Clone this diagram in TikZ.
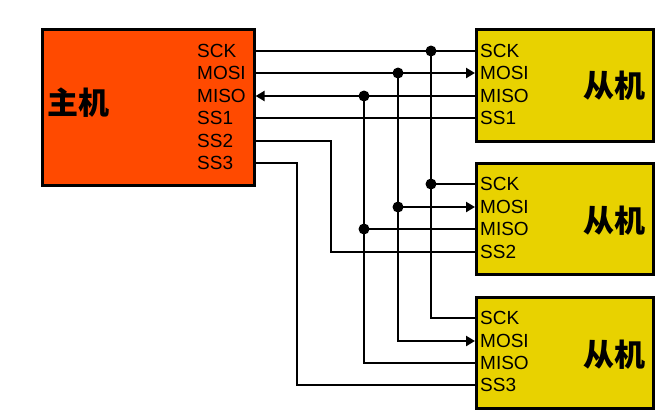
\documentclass[tikz,border=0pt]{standalone}
\usepackage{fontspec}
\setmainfont{Liberation Sans}
\newfontfamily\cjk{Noto Sans CJK SC}
\usetikzlibrary{arrows.meta}
\definecolor{masterred}{RGB}{255,74,0}
\definecolor{slaveyellow}{RGB}{232,210,0}
\tikzset{
  unit/.style={draw,line width=2.6pt,anchor=north west,inner sep=0pt},
  pin/.style={anchor=west,inner sep=0pt,text height=13pt,text depth=0pt,font=\fontsize{19}{19}\selectfont},
  title/.style={font=\cjk\bfseries\fontsize{31}{31}\selectfont},
  wire/.style={line width=2.8pt},
  sig/.style={wire,-{Triangle[length=9pt,width=10pt]}},
  junc/.style={circle,fill,inner sep=0pt,minimum size=11pt},
}

\begin{document}
\begin{tikzpicture}[x=1pt,y=-1pt]
    \useasboundingbox (0,0) rectangle (666,416);
    %Master
    \node[unit,fill=masterred,minimum width=212pt,minimum height=156pt] (master) at (41,28) {};
    \node[title] (mname) at (78,103) {主机};
    \node[pin] (mSCK)  at (197,51)  {SCK};
    \node[pin] (mMOSI) at (197,73)  {MOSI};
    \node[pin] (mMISO) at (197,96)  {MISO};
    \node[pin] (mSS1)  at (197,118) {SS1};
    \node[pin] (mSS2)  at (197,141) {SS2};
    \node[pin] (mSS3)  at (197,163) {SS3};
    %Slave 1
    \node[unit,fill=slaveyellow,minimum width=177pt,minimum height=112pt] (slaveA) at (475,28) {};
    \node[title] (aname) at ([xshift=-40pt]slaveA.east) {从机};
    \node[pin] (aSCK)  at (480,51)  {SCK};
    \node[pin] (aMOSI) at (480,73)  {MOSI};
    \node[pin] (aMISO) at (480,96)  {MISO};
    \node[pin] (aSS)   at (480,118) {SS1};
    %Slave 2
    \node[unit,fill=slaveyellow,minimum width=177pt,minimum height=111pt] (slaveB) at (475,162) {};
    \node[title] (bname) at ([xshift=-40pt,yshift=-2pt]slaveB.east) {从机};
    \node[pin] (bSCK)  at (480,184) {SCK};
    \node[pin] (bMOSI) at (480,207) {MOSI};
    \node[pin] (bMISO) at (480,229) {MISO};
    \node[pin] (bSS)   at (480,252) {SS2};
    %Slave 3
    \node[unit,fill=slaveyellow,minimum width=177pt,minimum height=111pt] (slaveC) at (475,296) {};
    \node[title] (cname) at ([xshift=-40pt,yshift=-2pt]slaveC.east) {从机};
    \node[pin] (cSCK)  at (480,318) {SCK};
    \node[pin] (cMOSI) at (480,341) {MOSI};
    \node[pin] (cMISO) at (480,363) {MISO};
    \node[pin] (cSS)   at (480,385) {SS3};
    %Junctions
    \node[junc] (jSCKa)  at (431,51)  {};
    \node[junc] (jSCKb)  at (431,184) {};
    \node[junc] (jMOSIa) at (398,73)  {};
    \node[junc] (jMOSIb) at (398,207) {};
    \node[junc] (jMISOa) at (364,96)  {};
    \node[junc] (jMISOb) at (364,229) {};
    \coordinate (ssB) at (331,0);
    \coordinate (ssC) at (297,0);
    %SCK
    \draw[wire] (mSCK -| master.east) -- (aSCK -| slaveA.west);
    \draw[wire] (jSCKa.center) |- (cSCK -| slaveC.west);
    \draw[wire] (jSCKb.center) -- (bSCK -| slaveB.west);
    %MOSI
    \draw[sig] (mMOSI -| master.east) -- (aMOSI -| slaveA.west);
    \draw[sig] (jMOSIa.center) |- (cMOSI -| slaveC.west);
    \draw[sig] (jMOSIb.center) -- (bMOSI -| slaveB.west);
    %MISO
    \draw[sig] (aMISO -| slaveA.west) -- (mMISO -| master.east);
    \draw[wire] (jMISOa.center) |- (cMISO -| slaveC.west);
    \draw[wire] (jMISOb.center) -- (bMISO -| slaveB.west);
    %Selects
    \draw[wire] (mSS1 -| master.east) -- (aSS -| slaveA.west);
    \draw[wire] (mSS2 -| master.east) -| (ssB |- bSS) -- (bSS -| slaveB.west);
    \draw[wire] (mSS3 -| master.east) -| (ssC |- cSS) -- (cSS -| slaveC.west);
\end{tikzpicture}
\end{document}
